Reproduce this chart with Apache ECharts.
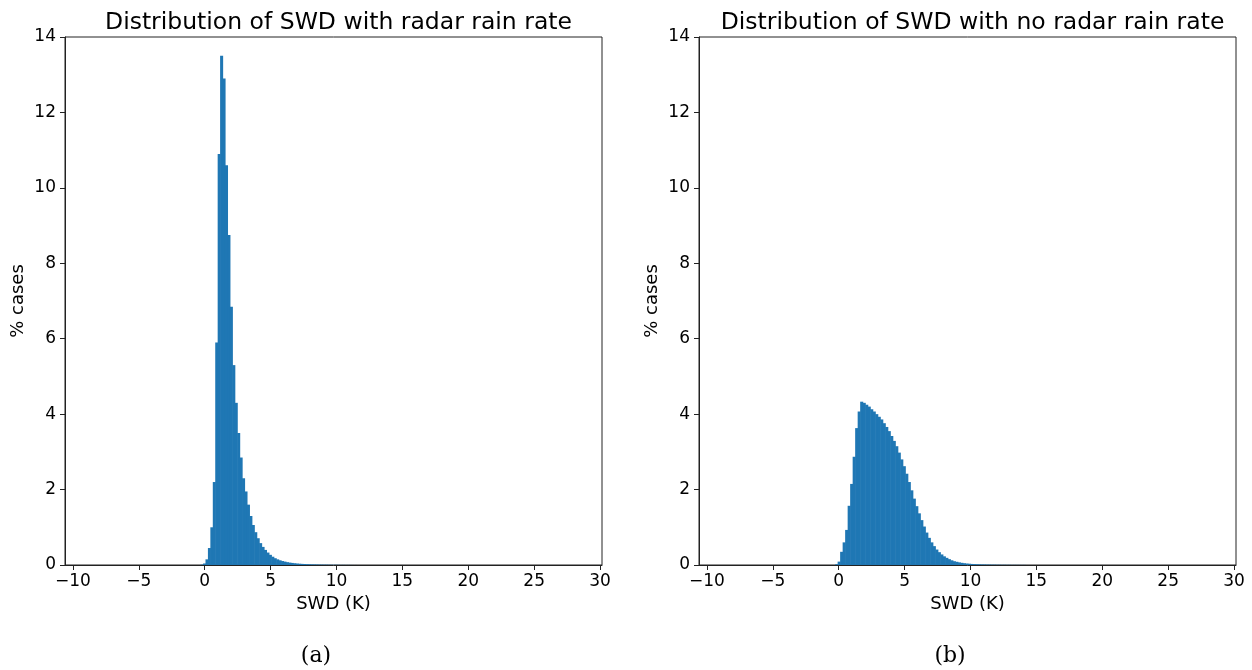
<!DOCTYPE html>
<html>
<head>
<meta charset="utf-8">
<script src="https://cdn.jsdelivr.net/npm/echarts@6/dist/echarts.min.js"></script>
<style>
  html, body { margin: 0; padding: 0; background: #fff; }
  #chart { width: 1252px; height: 670px; }
</style>
</head>
<body>
<div id="chart"></div>
<script>
// Histogram of SWD (K) for pixels with a radar rain rate: bin edges and % of cases per bin
const rainBinStart = -0.31;
const rainBinWidth = 0.185;
const rainPercent = [
  0.01, 0.04, 0.15, 0.45, 1.0, 2.2, 5.9, 10.9, 13.5, 12.9,
  10.6, 8.75, 6.85, 5.3, 4.3, 3.5, 2.85, 2.3, 1.95, 1.6,
  1.3, 1.06, 0.87, 0.71, 0.58, 0.48, 0.4, 0.33, 0.27, 0.22,
  0.18, 0.15, 0.125, 0.105, 0.09, 0.075, 0.064, 0.055, 0.047, 0.04,
  0.034, 0.03, 0.026, 0.022, 0.019, 0.017, 0.015, 0.013, 0.011, 0.01,
  0.009, 0.008, 0.007, 0.006, 0.005, 0.005, 0.004, 0.003, 0.003, 0.002,
  0.002, 0.002, 0.001, 0.001
];

// Histogram of SWD (K) for pixels with no radar rain rate
const dryBinStart = -0.27;
const dryBinWidth = 0.19;
const dryPercent = [
  0.02, 0.09, 0.35, 0.6, 0.93, 1.57, 2.15, 2.87, 3.63, 4.07,
  4.33, 4.3, 4.25, 4.2, 4.13, 4.07, 4.0, 3.93, 3.86, 3.76,
  3.66, 3.55, 3.42, 3.29, 3.15, 2.98, 2.8, 2.62, 2.42, 2.2,
  1.98, 1.76, 1.56, 1.37, 1.19, 1.02, 0.86, 0.72, 0.6, 0.5,
  0.41, 0.34, 0.28, 0.23, 0.19, 0.155, 0.125, 0.1, 0.085, 0.07,
  0.058, 0.048, 0.04, 0.034, 0.028, 0.024, 0.02, 0.017, 0.015, 0.013,
  0.011, 0.01, 0.009, 0.008, 0.007, 0.006, 0.005, 0.005, 0.004, 0.004,
  0.003, 0.003, 0.003, 0.002, 0.002, 0.002
];

// Axis ticks
const xTickValues = [-10, -5, 0, 5, 10, 15, 20, 25, 30];
const xTickLabels = ['\u221210', '\u22125', '0', '5', '10', '15', '20', '25', '30'];
const xRange = [-10.6, 30.15];
const yRange = [0, 14];
const yStep = 2;

const panelTitles = ['Distribution of SWD with radar rain rate', 'Distribution of SWD with no radar rain rate'];
const panelTags = ['(a)', '(b)'];
const xAxisTitle = 'SWD (K)';
const yAxisTitle = '% cases';

function toBins(start, width, values) {
  return values.map((v, i) => [start + i * width, start + (i + 1) * width, v]);
}

const grids = [
  { left: 65, top: 37, width: 537, height: 528 },
  { left: 699, top: 37, width: 537, height: 528 }
];

const barColor = '#1f77b4';
const inkColor = '#000';
const spineColor = '#222';
const fontFamily = '"DejaVu Sans", sans-serif';
const serifFamily = '"DejaVu Serif", "Liberation Serif", serif';

function histItem(params, api) {
  const p0 = api.coord([api.value(0), 0]);
  const p1 = api.coord([api.value(1), api.value(2)]);
  return {
    type: 'rect',
    shape: { x: p0[0], y: p1[1], width: p1[0] - p0[0] + 0.6, height: p0[1] - p1[1] },
    style: { fill: barColor }
  };
}

const xAxes = grids.map((g, i) => ({
  type: 'value',
  gridIndex: i,
  min: xRange[0],
  max: xRange[1],
  name: xAxisTitle,
  nameLocation: 'middle',
  nameGap: 30,
  nameTextStyle: { color: inkColor, fontSize: 18, fontFamily },
  splitLine: { show: false },
  axisLine: { show: true, onZero: false, lineStyle: { color: spineColor, width: 1 } },
  axisTick: { show: true, length: 5, customValues: xTickValues, lineStyle: { color: spineColor } },
  axisLabel: {
    customValues: xTickValues,
    margin: 8,
    color: inkColor,
    fontSize: 17,
    fontFamily,
    formatter: v => xTickLabels[xTickValues.indexOf(v)]
  }
}));

const yAxes = grids.map((g, i) => ({
  type: 'value',
  gridIndex: i,
  min: yRange[0],
  max: yRange[1],
  interval: yStep,
  name: yAxisTitle,
  nameLocation: 'middle',
  nameGap: 38,
  nameTextStyle: { color: inkColor, fontSize: 18, fontFamily },
  splitLine: { show: false },
  axisLine: { show: true, onZero: false, lineStyle: { color: spineColor, width: 1 } },
  axisTick: { show: true, length: 5, lineStyle: { color: spineColor } },
  axisLabel: { margin: 9, color: inkColor, fontSize: 17, fontFamily }
}));

const chart = echarts.init(document.getElementById('chart'), null, { renderer: 'canvas' });

chart.setOption({
  animation: false,
  backgroundColor: '#fff',
  title: grids.map((g, i) => ({
    text: panelTitles[i],
    left: g.left + g.width / 2,
    top: 6,
    textAlign: 'center',
    textStyle: { color: inkColor, fontSize: 23.5, fontWeight: 'normal', fontFamily }
  })),
  grid: grids.map(g => Object.assign({ show: true, borderColor: spineColor, borderWidth: 1, backgroundColor: 'transparent' }, g)),
  xAxis: xAxes,
  yAxis: yAxes,
  series: [
    { type: 'custom', xAxisIndex: 0, yAxisIndex: 0, clip: true, renderItem: histItem,
      encode: { x: [0, 1], y: 2 }, data: toBins(rainBinStart, rainBinWidth, rainPercent) },
    { type: 'custom', xAxisIndex: 1, yAxisIndex: 1, clip: true, renderItem: histItem,
      encode: { x: [0, 1], y: 2 }, data: toBins(dryBinStart, dryBinWidth, dryPercent) }
  ],
  graphic: [
    { type: 'text', x: 316, y: 656, style: { text: panelTags[0], fill: inkColor, fontSize: 22, fontFamily: serifFamily, align: 'center', verticalAlign: 'middle' } },
    { type: 'text', x: 950, y: 656, style: { text: panelTags[1], fill: inkColor, fontSize: 22, fontFamily: serifFamily, align: 'center', verticalAlign: 'middle' } }
  ]
});
</script>
</body>
</html>
